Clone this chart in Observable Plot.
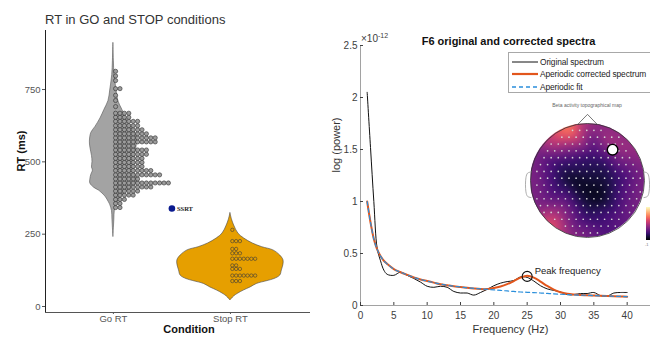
<!DOCTYPE html>
<html><head><meta charset="utf-8">
<script src="https://cdn.jsdelivr.net/npm/d3@7"></script>
<script src="https://cdn.jsdelivr.net/npm/@observablehq/plot@0.6"></script>
<style>
html,body{margin:0;padding:0;background:#fff;overflow:hidden;}
#wrap{position:relative;width:650px;height:338px;overflow:hidden;background:#fff;font-family:"Liberation Sans",Arial,sans-serif;}
#wrap > *{position:absolute;}
</style></head><body><div id="wrap"></div>
<script>
// ---------------- LEFT PANEL DATA ----------------
const conditions = ["Go RT", "Stop RT"];
const rtTicks = [0, 250, 500, 750];
const goViolinRT    = [910, 850, 800, 750, 710, 680, 650, 620, 600, 570, 550, 520, 500, 480, 470, 455, 440, 425, 410, 400, 380, 360, 350, 330, 300, 270, 240];
const goViolinWidth = [0, 0.02, 0.05, 0.13, 0.21, 0.38, 0.55, 0.77, 0.94, 1.0, 0.98, 0.91, 0.89, 0.91, 0.87, 0.94, 0.98, 0.98, 0.81, 0.6, 0.34, 0.19, 0.13, 0.06, 0.04, 0.02, 0];
const stopViolinRT    = [322, 300, 280, 252, 235, 218, 205, 194, 176, 160, 145, 125, 107, 95, 88, 78, 66, 55, 45, 35, 21];
const stopViolinWidth = [0, 0.03, 0.07, 0.15, 0.26, 0.42, 0.6, 0.81, 0.94, 1.0, 1.0, 0.97, 0.94, 0.83, 0.7, 0.5, 0.38, 0.25, 0.15, 0.07, 0];
const goDotRT    = [342, 356, 370, 385, 399, 413, 427, 441, 455, 470, 484, 498, 512, 526, 541, 555, 569, 583, 597, 611, 625, 640, 654, 668, 691, 712, 730, 753, 781, 797, 813];
const goDotCount = [2, 2, 3, 5, 6, 9, 13, 6, 11, 9, 7, 7, 7, 8, 8, 5, 10, 10, 8, 7, 6, 6, 4, 4, 1, 1, 1, 2, 1, 1, 1];
const stopDotRT    = [88, 107, 130, 142, 165, 184, 199, 226, 265];
const stopDotCount = [3, 7, 3, 2, 7, 3, 2, 3, 1];
const ssrtLabel = "SSRT";
const ssrtValue = 339;
const ssrtPosition = 1.5; // between the two conditions

// ---------------- RIGHT PANEL DATA ----------------
const freqHz = [1, 1.5, 2, 2.5, 3, 3.5, 4, 5, 6, 7, 8, 9, 10, 11, 12, 13, 14, 15, 16, 17, 18, 19, 20, 21, 22, 23, 24, 25, 26, 27, 28, 29, 30, 31, 32, 33, 34, 35, 36, 37, 38, 39, 40];
const originalSpectrum = [2.05, 1.52, 1.0, 0.55, 0.43, 0.34, 0.30, 0.29, 0.32, 0.29, 0.26, 0.225, 0.185, 0.175, 0.185, 0.175, 0.135, 0.12, 0.12, 0.1, 0.125, 0.155, 0.19, 0.215, 0.23, 0.24, 0.275, 0.27, 0.235, 0.19, 0.16, 0.145, 0.13, 0.105, 0.105, 0.115, 0.115, 0.125, 0.095, 0.09, 0.12, 0.125, 0.125];
const correctedSpectrum = [1.0, 0.8, 0.64, 0.54, 0.475, 0.43, 0.40, 0.35, 0.32, 0.295, 0.27, 0.25, 0.235, 0.22, 0.205, 0.195, 0.185, 0.178, 0.17, 0.163, 0.158, 0.158, 0.168, 0.183, 0.205, 0.235, 0.268, 0.285, 0.268, 0.23, 0.188, 0.153, 0.128, 0.113, 0.105, 0.1, 0.098, 0.095, 0.093, 0.091, 0.089, 0.087, 0.085];
const aperiodicFit = [1.0, 0.8, 0.64, 0.54, 0.475, 0.43, 0.40, 0.35, 0.32, 0.295, 0.27, 0.25, 0.235, 0.22, 0.205, 0.195, 0.185, 0.178, 0.17, 0.165, 0.16, 0.155, 0.15, 0.145, 0.14, 0.135, 0.13, 0.127, 0.124, 0.12, 0.116, 0.112, 0.108, 0.105, 0.102, 0.1, 0.098, 0.095, 0.093, 0.091, 0.089, 0.087, 0.085];
const freqTicks = [0, 5, 10, 15, 20, 25, 30, 35, 40];
const powerTicks = [0, 0.5, 1, 1.5, 2, 2.5];
const peakFreq = 25, peakPower = 0.28, peakLabel = "Peak frequency";
const legendLabels = ["Original spectrum", "Aperiodic corrected spectrum", "Aperiodic fit"];

// topographic map samples (head units, x right, y toward nose)
const topoX     = [-0.3, -0.55, -0.1, 0.15, 0.4, 0.55, 0.8, 0.95, 0.1, -0.3, -0.55, -0.85, 0.2, 0.55, -0.6, -0.45, -0.8, 0.05, 0.6, 0.85, -0.05, 0.3, -0.9, 0.0, 0.35, -0.3];
const topoY     = [0.88, 0.7, 0.97, 0.95, 0.75, 0.6, 0.5, 0.15, 0.45, 0.05, 0.3, 0.1, -0.3, 0.05, -0.75, -0.5, -0.4, -0.85, -0.6, -0.35, 0.1, 0.25, 0.5, -0.55, -0.9, -0.95];
const topoValue = [0.74, 0.55, 0.5, 0.4, 0.5, 0.45, 0.42, 0.35, 0.2, 0.07, 0.2, 0.33, 0.04, 0.2, 0.62, 0.4, 0.35, 0.3, 0.28, 0.35, 0.12, 0.15, 0.35, 0.15, 0.25, 0.4];
const topoMarker = {x: 0.44, y: 0.54};
const headNose  = [{x: -0.17, y: 0.985}, {x: 0, y: 1.16}, {x: 0.17, y: 0.985}];
const earLeft   = [{x: -0.99, y: 0.15}, {x: -1.05, y: 0.13}, {x: -1.08, y: 0.05}, {x: -1.08, y: -0.2}, {x: -1.05, y: -0.28}, {x: -0.99, y: -0.3}];
const earRight  = earLeft.map(d => ({x: -d.x, y: d.y}));
const topoTitle = "Beta activity topographical map";

// ---------------- BUILD ----------------
const wrap = document.getElementById("wrap");
const FONT = "Liberation Sans, Arial, sans-serif";

function place(el, left, top) { el.style.left = left + "px"; el.style.top = top + "px"; wrap.appendChild(el); return el; }
function div(html, css) { const d = document.createElement("div"); d.innerHTML = html; d.style.cssText = css; return d; }

// LEFT
const xDomL = [0.42, 2.684], yDomL = [-20.7, 954];
const goHalf = 23.5 / 117, stopHalf = 53 / 117, goStep = 4.4 / 117, stopStep = 3.8 / 117;
const violin = (rt, w, c, half) => rt.map((r, i) => ({rt: r, x1: c - w[i] * half, x2: c + w[i] * half}));
const stack = (rt, cnt, c, step) => rt.flatMap((r, i) => d3.range(cnt[i]).map(j => ({rt: r, x: c + (j + 0.5) * step})));

const left = Plot.plot({
  width: 325, height: 338, marginLeft: 45, marginRight: 15, marginTop: 30, marginBottom: 26,
  x: {domain: xDomL, axis: null},
  y: {domain: yDomL, axis: null},
  style: {fontFamily: FONT, background: "transparent", overflow: "visible"},
  marks: [
    Plot.areaX(violin(goViolinRT, goViolinWidth, 1, goHalf), {y: "rt", x1: "x1", x2: "x2", fill: "#a3a3a3", stroke: "#555", strokeWidth: 0.6, curve: "catmull-rom"}),
    Plot.areaX(violin(stopViolinRT, stopViolinWidth, 2, stopHalf), {y: "rt", x1: "x1", x2: "x2", fill: "#E69F00", stroke: "#444", strokeWidth: 0.6, curve: "catmull-rom"}),
    Plot.dot(stack(goDotRT, goDotCount, 1, goStep), {x: "x", y: "rt", r: 2.1, fill: "#9c9c9c", stroke: "#2b2b2b", strokeWidth: 0.6}),
    Plot.dot(stack(stopDotRT, stopDotCount, 2, stopStep), {x: "x", y: "rt", r: 1.7, fill: "none", stroke: "#3a3a3a", strokeWidth: 0.6}),
    Plot.dot([ssrtValue], {x: () => ssrtPosition, y: d => d, r: 3.3, fill: "#0a1a8f"}),
    Plot.text([ssrtLabel], {x: () => ssrtPosition, y: () => ssrtValue, dx: 5, textAnchor: "start", fontSize: 6.5, fontWeight: "bold", fontFamily: "Liberation Serif, serif", fill: "#222"}),
    Plot.axisY({ticks: rtTicks, tickSize: 3, tickPadding: 2, fontSize: 9.5, color: "#555", label: null}),
    Plot.axisX({ticks: [1, 2], tickFormat: i => conditions[i - 1], tickSize: 2, tickPadding: 1, fontSize: 9.5, color: "#555", label: null}),
    Plot.ruleX([xDomL[0]], {stroke: "#222", strokeWidth: 1}),
    Plot.ruleY([yDomL[0]], {stroke: "#555", strokeWidth: 1}),
    Plot.text(["Condition"], {frameAnchor: "bottom", dx: 11, dy: 20, fontWeight: "bold", fontSize: 11, fill: "#111"}),
    Plot.text(["RT (ms)"], {frameAnchor: "left", dx: -24, rotate: -90, fontWeight: "bold", fontSize: 11, fill: "#111"})
  ]
});
place(left, 0, 0);
place(div("RT in GO and STOP conditions", `font-size:13px;color:#333;white-space:nowrap;font-family:${FONT}`), 45, 12);

// RIGHT
const spectra = freqHz.map((f, i) => ({f, orig: originalSpectrum[i], corr: correctedSpectrum[i], fit: aperiodicFit[i]}));
const right = Plot.plot({
  width: 330, height: 338, marginLeft: 30, marginRight: 0, marginTop: 45, marginBottom: 33,
  x: {domain: [0, 45], axis: null},
  y: {domain: [0, 2.5], axis: null},
  style: {fontFamily: FONT, background: "transparent", overflow: "visible"},
  marks: [
    Plot.ruleX([0], {stroke: "#8a8a8a", strokeWidth: 0.8}),
    Plot.ruleY([0], {stroke: "#8a8a8a", strokeWidth: 0.8}),
    Plot.axisX({ticks: freqTicks, tickFormat: d => String(d), tickSize: -3, tickPadding: 9, fontSize: 10, color: "#404040", label: null}),
    Plot.axisY({ticks: powerTicks, tickFormat: d => String(d), tickSize: -3, tickPadding: 6, fontSize: 10, color: "#404040", label: null}),
    Plot.line(spectra, {x: "f", y: "orig", stroke: "#111", strokeWidth: 1, curve: "catmull-rom"}),
    Plot.line(spectra, {x: "f", y: "corr", stroke: "#e2561c", strokeWidth: 2, curve: "catmull-rom"}),
    Plot.line(spectra, {x: "f", y: "fit", stroke: "#2b8fdb", strokeWidth: 1.2, strokeDasharray: "4,3", curve: "catmull-rom"}),
    Plot.dot([peakFreq], {x: d => d, y: () => peakPower, r: 5, stroke: "#111", strokeWidth: 1.1, fill: "none"}),
    Plot.text([peakLabel], {x: () => peakFreq, y: () => peakPower, dx: 7.5, dy: -5, textAnchor: "start", fontSize: 9.5, fill: "#222"}),
    Plot.text(["F6 original and corrected spectra"], {frameAnchor: "top", dx: -2, dy: -8, fontWeight: "bold", fontSize: 11, fill: "#111"}),
    Plot.text(["Frequency (Hz)"], {frameAnchor: "bottom", dy: 27, fontSize: 11, fill: "#333"}),
    Plot.text(["log (power)"], {frameAnchor: "left", dx: -24, dy: -3, rotate: -90, fontSize: 11, fill: "#333"})
  ]
});
place(right, 330, 0);
place(div(`×10<span style="font-size:7px;position:relative;top:-4px">-12</span>`, `font-size:10px;color:#404040;white-space:nowrap;font-family:${FONT}`), 361, 33);

// legend
const swatches = [
  `<line x1="0" y1="5" x2="26" y2="5" stroke="#111" stroke-width="1"/>`,
  `<line x1="0" y1="5" x2="26" y2="5" stroke="#e2561c" stroke-width="2.2"/>`,
  `<line x1="0" y1="5" x2="26" y2="5" stroke="#2b8fdb" stroke-width="1.3" stroke-dasharray="4,3"/>`
];
const legend = div(legendLabels.map((t, i) =>
  `<div style="position:absolute;left:3px;top:${3 + i * 12.5}px;height:11px;white-space:nowrap;display:flex;align-items:center">
     <svg width="27" height="10" style="display:block">${swatches[i]}</svg>
     <span style="font-size:8.4px;color:#222;margin-left:1px;line-height:10px;letter-spacing:-0.1px">${t}</span></div>`).join(""),
  `width:160px;height:39px;border:1px solid #a8a8a8;background:#fff;font-family:${FONT}`);
place(legend, 508, 52);

// topographic map
place(div(topoTitle, `font-size:5px;color:#666;white-space:nowrap;width:110px;text-align:center;font-family:${FONT}`), 532, 102);
const topoSamples = topoX.map((x, i) => ({x, y: topoY[i], v: topoValue[i]}));
const topo = Plot.plot({
  width: 114, height: 114, margin: 0,
  x: {domain: [-1, 1], axis: null}, y: {domain: [-1, 1], axis: null},
  color: {type: "linear", scheme: "magma", domain: [0, 1]},
  style: {background: "transparent"},
  marks: [Plot.raster(topoSamples, {x: "x", y: "y", fill: "v", x1: -1, y1: -1, x2: 1, y2: 1, interpolate: "barycentric", blur: 4})]
});
topo.style.display = "block";
const topoHolder = div("", "width:114px;height:114px;border-radius:50%;overflow:hidden;");
topoHolder.appendChild(topo);
place(topoHolder, 530, 123);

// electrode layout (hex-ish sensor grid)
const electrodes = d3.range(-0.92, 0.93, 0.12).flatMap((y, r) =>
  d3.range(-0.95 + (r % 2) * 0.0625, 0.96, 0.125).map(x => ({x, y}))).filter(d => d.x * d.x + d.y * d.y < 0.9);
const hd = 70 / 57;
const overlay = Plot.plot({
  width: 140, height: 140, margin: 0,
  x: {domain: [-hd, hd], axis: null}, y: {domain: [-hd, hd], axis: null},
  style: {background: "transparent", overflow: "visible"},
  marks: [
    Plot.dot(electrodes, {x: "x", y: "y", r: 0.85, fill: "#d4d4d4", stroke: "none"}),
    Plot.dot([0], {x: () => 0, y: () => 0, r: 57, fill: "none", stroke: "#333", strokeWidth: 0.8}),
    Plot.line(headNose, {x: "x", y: "y", stroke: "#555", strokeWidth: 0.8}),
    Plot.line(earLeft, {x: "x", y: "y", stroke: "#999", strokeWidth: 0.8, curve: "catmull-rom"}),
    Plot.line(earRight, {x: "x", y: "y", stroke: "#999", strokeWidth: 0.8, curve: "catmull-rom"}),
    Plot.dot([topoMarker], {x: "x", y: "y", r: 5.3, fill: "#fff", stroke: "#000", strokeWidth: 1.4})
  ]
});
place(overlay, 517, 110);

// colorbar
const cbStops = d3.range(0, 1.01, 0.1).map(t => `${d3.interpolateMagma(t)} ${t * 100}%`).join(",");
place(div("", `width:5px;height:33px;background:linear-gradient(to top,${cbStops});`), 646, 207);
place(div("-1", `font-size:4px;color:#777;font-family:${FONT}`), 645, 242);
</script></body></html>
